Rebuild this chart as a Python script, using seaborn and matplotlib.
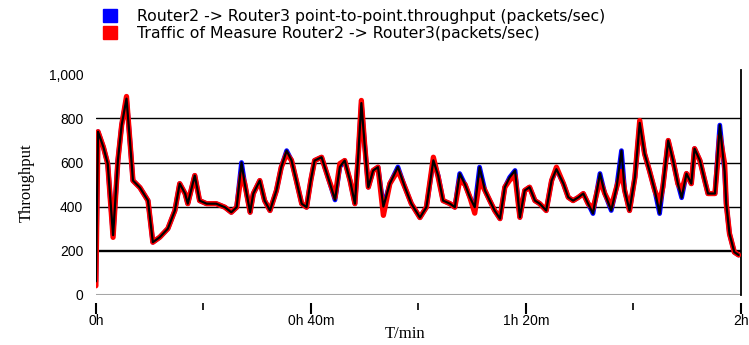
import matplotlib
matplotlib.use("Agg")
import matplotlib.pyplot as plt
from matplotlib.patches import Patch
import numpy as np
import pandas as pd
import seaborn as sns

# time in minutes
t_min = [0.0, 0.4, 1.4, 2.2, 3.2, 4.1, 4.8, 5.7, 6.3, 6.9, 8.2, 9.7, 10.6, 11.9,
         13.4, 14.7, 15.6, 16.6, 17.1, 18.4, 19.3, 20.6, 22.4, 24.0, 25.2, 26.2,
         27.1, 27.7, 28.7, 29.3, 30.5, 31.4, 32.4, 33.6, 34.5, 35.5, 36.4, 37.3,
         38.3, 39.2, 40.0, 40.7, 42.0, 43.2, 44.5, 45.4, 46.3, 47.3, 48.2, 48.8,
         49.4, 50.0, 50.7, 51.6, 52.5, 53.5, 54.7, 56.2, 57.5, 58.7, 60.3, 61.5,
         62.8, 63.7, 64.6, 65.9, 66.8, 67.7, 68.7, 69.6, 70.5, 71.4, 72.4, 73.3,
         74.2, 75.2, 76.1, 77.0, 78.0, 78.9, 79.8, 80.7, 81.7, 82.6, 83.8, 84.8,
         85.7, 87.0, 87.9, 88.8, 89.8, 90.7, 91.6, 92.5, 93.8, 94.7, 95.9, 96.9,
         97.8, 98.4, 99.3, 100.3, 101.2, 102.1, 103.0, 104.0, 104.9, 105.5, 106.5,
         107.4, 108.3, 109.0, 109.9, 110.8, 111.4, 112.4, 113.3, 113.9, 115.2,
         116.1, 117.0, 117.3, 117.9, 118.8, 119.6]

# Traffic of Measure (red)
measure = [40, 740, 670, 595, 260, 610, 770, 900, 710, 518, 486, 427, 238, 261,
           300, 382, 504, 459, 413, 541, 427, 413, 413, 397, 374, 397,
           550, 504, 374, 459, 518, 427, 382, 473, 579, 640, 610, 518,
           413, 397, 520, 609, 624, 533, 442, 595, 609, 518, 413, 624,
           882, 686, 488, 564, 579, 360, 504, 564, 488, 413, 350, 397,
           624, 533, 427, 413, 397, 520, 500, 442, 370, 520, 473, 427,
           382, 345, 488, 520, 540, 351, 473, 488, 427, 413, 382, 518,
           579, 504, 442, 427, 442, 459, 413, 390, 520, 459, 400, 488,
           560, 473, 382, 533, 791, 640, 564, 473, 420, 488, 700,
           609, 504, 473, 550, 504, 663, 609, 518, 459, 459,
           720, 595, 413, 277, 193, 180]

# point-to-point throughput (blue)
throughput = [60, 740, 670, 595, 270, 610, 770, 890, 710, 518, 486, 427, 238, 261,
              300, 382, 504, 459, 413, 541, 427, 413, 413, 397, 374, 397,
              600, 504, 374, 459, 518, 427, 382, 473, 579, 654, 610, 518,
              413, 397, 520, 609, 624, 533, 430, 580, 609, 518, 413, 624,
              870, 686, 488, 564, 579, 400, 504, 580, 488, 413, 350, 397,
              610, 540, 427, 413, 397, 550, 500, 442, 397, 579, 473, 427,
              382, 345, 488, 533, 564, 351, 473, 488, 427, 413, 382, 518,
              570, 504, 442, 427, 442, 459, 413, 368, 550, 459, 382, 488,
              654, 473, 382, 533, 780, 640, 564, 473, 368, 488, 700,
              609, 504, 440, 550, 504, 663, 609, 518, 459, 459,
              770, 560, 413, 277, 193, 180]

major_ticks = [0, 40, 80, 120]
major_labels = ["0h", "0h 40m", "1h 20m", "2h"]
minor_ticks = [20, 60, 100]
y_ticks = [0, 200, 400, 600, 800, 1000]
y_labels = ["0", "200", "400", "600", "800", "1,000"]
grid_levels = [200, 400, 600, 800]

df = pd.DataFrame({"t": t_min, "measure": measure, "throughput": throughput})

sns.set_theme(style="white")
plt.rcParams["font.family"] = ["Liberation Sans", "DejaVu Sans"]
plt.rcParams.update({"text.color": "black", "axes.labelcolor": "black",
                     "xtick.color": "black", "ytick.color": "black"})
serif = ["Liberation Serif", "DejaVu Serif"]

fig = plt.figure(figsize=(7.49, 3.45), dpi=100)
ax = fig.add_axes([0.128, 0.146, 0.861, 0.651])

for lvl in grid_levels:
    ax.axhline(lvl, color="black", lw=1.7 if lvl == 200 else 1.0, zorder=1)
ax.axhline(0, color="0.65", lw=1.5, zorder=1)

sns.lineplot(data=df, x="t", y="throughput", color="#0000ff", lw=3.4, ax=ax, zorder=2)
sns.lineplot(data=df, x="t", y="measure", color="#ff0000", lw=3.8, ax=ax, zorder=3)
sns.lineplot(data=df, x="t", y="throughput", color="black", lw=1.6, ax=ax, zorder=4)

ax.set_xlim(0, 120)
ax.set_ylim(0, 1020)
ax.set_xticks(major_ticks)
ax.set_xticklabels(major_labels)
ax.set_xticks(minor_ticks, minor=True)
ax.set_yticks(y_ticks)
ax.set_yticklabels(y_labels)

for s in ["top", "left"]:
    ax.spines[s].set_visible(False)
ax.spines["right"].set_color("black")
ax.spines["right"].set_linewidth(1.3)
ax.spines["bottom"].set_position(("outward", 6))
ax.spines["bottom"].set_visible(False)

ax.tick_params(axis="x", which="major", direction="out", length=8, width=1.5,
               color="black", bottom=True, labelsize=10, pad=0)
ax.tick_params(axis="x", which="minor", direction="out", length=5, width=1.2,
               color="black", bottom=True)
ax.tick_params(axis="y", length=0, pad=9, labelsize=10)

ax.set_xlabel("T/min", fontsize=12, family=serif)
ax.xaxis.set_label_coords(0.48, -0.14)
ax.set_ylabel("Throughput", fontsize=12, family=serif)
ax.yaxis.set_label_coords(-0.095, 0.5)

handles = [Patch(facecolor="#0000ff", edgecolor="#0000ff"),
           Patch(facecolor="#ff0000", edgecolor="#ff0000")]
labels = ["Router2 -> Router3 point-to-point.throughput (packets/sec)",
          "Traffic of Measure Router2 -> Router3(packets/sec)"]
fig.legend(handles, labels, loc="upper left", bbox_to_anchor=(0.118, 1.015),
           frameon=False, prop={"family": "DejaVu Sans", "size": 11.3},
           handlelength=0.9, handleheight=0.85, handletextpad=1.3,
           labelspacing=0.12, labelcolor="black")

fig.savefig("out.png", dpi=100)
